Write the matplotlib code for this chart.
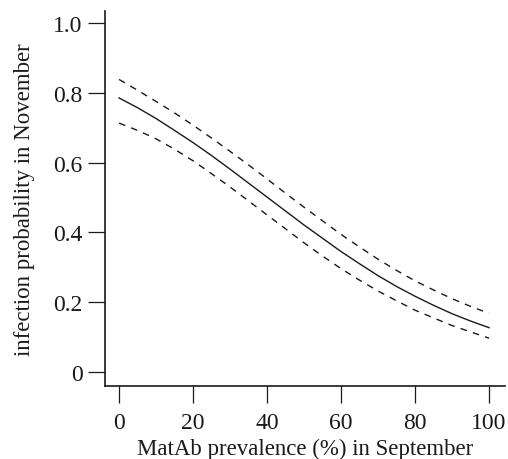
import matplotlib
matplotlib.use("Agg")
import matplotlib.pyplot as plt

plt.rcParams['font.family'] = ['Liberation Serif', 'DejaVu Serif']

# values
prevalence = [0, 5, 10, 15, 20, 25, 30, 35, 40, 45, 50,
              55, 60, 65, 70, 75, 80, 85, 90, 95, 100]
fit = [0.785, 0.757, 0.726, 0.692, 0.657, 0.620, 0.581, 0.541, 0.501, 0.461, 0.421,
       0.383, 0.345, 0.310, 0.276, 0.245, 0.217, 0.191, 0.167, 0.146, 0.127]
upper = [0.838, 0.807, 0.775, 0.742, 0.707, 0.670, 0.632, 0.593, 0.553, 0.512, 0.472,
         0.433, 0.394, 0.358, 0.323, 0.291, 0.261, 0.235, 0.210, 0.188, 0.168]
lower = [0.713, 0.692, 0.668, 0.638, 0.605, 0.568, 0.530, 0.490, 0.450, 0.410, 0.370,
         0.332, 0.296, 0.263, 0.232, 0.204, 0.177, 0.155, 0.133, 0.115, 0.097]

xticks = [0, 20, 40, 60, 80, 100]
yticks = [0, 0.2, 0.4, 0.6, 0.8, 1.0]
yticklabels = ["0", "0.2", "0.4", "0.6", "0.8", "1.0"]

fig = plt.figure(figsize=(5.08, 4.6), dpi=100)
ax = fig.add_axes([105 / 508, 1 - 387 / 460, 400 / 508, 375 / 460])

ink = "#1a1a1a"
ax.plot(prevalence, fit, color=ink, lw=1.0)
ax.plot(prevalence, upper, color=ink, lw=1.0, linestyle=(0, (4.8, 4.5)))
ax.plot(prevalence, lower, color=ink, lw=1.0, linestyle=(0, (4.8, 4.5)))

ax.set_xlim(-3.8, 104.3)
ax.set_ylim(-0.04, 1.034)

ax.spines['top'].set_visible(False)
ax.spines['right'].set_visible(False)
for s in ('left', 'bottom'):
    ax.spines[s].set_linewidth(1.2)
    ax.spines[s].set_color(ink)

ax.set_xticks(xticks)
ax.set_yticks(yticks)
ax.set_yticklabels(yticklabels)
ax.tick_params(direction='out', length=12, width=0.9, color=ink,
               labelsize=17, labelcolor=ink)
ax.tick_params(axis='x', pad=7)
ax.tick_params(axis='y', pad=4)

ax.set_xlabel("MatAb prevalence (%) in September", fontsize=16.5, color=ink, labelpad=3.5)
ax.set_ylabel("infection probability in November", fontsize=16.5, color=ink, labelpad=13)

fig.savefig("out.png", dpi=100)
